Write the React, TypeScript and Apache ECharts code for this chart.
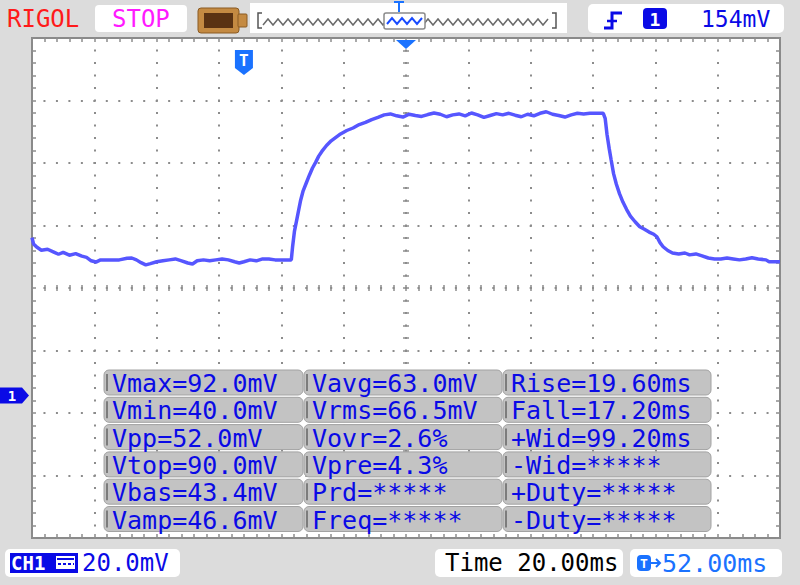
import React, { useEffect, useRef } from "react";
import * as echarts from "echarts";

// ---- waveform (time relative to trigger, ms ; CH1 voltage, mV) ----
const timeMs = [
  -68, -67.5, -66.5, -65, -63, -61, -59.5, -58, -56, -54, -52, -50.5, -49, -47.5, -46, -43, -40, -37.5,
  -36, -34.5, -33, -31.5, -30, -28, -26, -24, -22, -20, -18, -16.5, -15, -13, -11, -9, -7, -5, -3, -1.5,
  0, 2, 4, 6, 8, 10, 12, 14, 15.2,
  15.6, 16.2, 16.8, 17.4, 18.2, 19, 20, 21, 22, 23, 24, 25, 26.5, 28, 29.5, 31, 33, 35, 37, 39, 41, 43, 45, 47,
  49, 51, 53, 55, 57, 59, 61, 63, 65, 67, 69, 71, 73, 75, 77, 79, 81, 83, 85, 87, 89, 91, 93, 95, 97, 99,
  101, 103, 105, 107, 109, 111, 113, 115.3,
  115.9, 116.5, 117.2, 117.8, 118.6, 119.5, 120.5, 121.6, 122.8, 124, 125.5, 127, 128.5, 130, 131.5, 132.5,
  133.5, 134.5, 136, 137.5, 139.5, 141.5, 143, 145, 147, 149, 151, 153, 155, 157, 159, 161, 163, 165,
  167.5, 168.5, 170, 172,
];
const voltageMv = [
  50.5, 48.5, 47.5, 46.5, 46.8, 45.9, 45.2, 45.8, 44.9, 45.4, 44.6, 44.2, 43.1, 42.7, 43.4, 43.4, 43.4, 43.9,
  44.0, 43.4, 42.5, 41.8, 42.2, 42.8, 43.1, 43.4, 43.7, 43.1, 42.4, 42.1, 43.1, 43.4, 43.1, 43.4, 43.7, 43.4, 42.8, 42.4,
  42.8, 43.4, 43.1, 43.7, 43.7, 43.4, 43.4, 43.4, 43.4,
  47.5, 52.5, 55.5, 58.5, 62.5, 65.5, 68.0, 70.5, 72.8, 74.6, 76.6, 78.1, 80.0, 81.5, 82.6, 83.7, 84.8, 85.6, 86.7, 87.4, 88.3, 89.0, 89.8, 90.1,
  89.5, 89.1, 90.0, 89.6, 89.3, 89.9, 90.4, 90.0, 89.2, 89.8, 90.1, 89.5, 90.4, 89.8, 89.0, 89.6, 90.2, 89.8, 90.3, 89.7, 89.2, 90.0, 89.5, 90.3, 90.8, 90.0,
  89.6, 89.1, 89.8, 90.3, 90.1, 90.3, 90.3, 90.3,
  88.7, 83.5, 79.0, 75.5, 71.0, 67.6, 64.6, 61.9, 59.5, 57.4, 55.6, 54.0, 53.2, 52.3, 51.6, 50.8,
  48.9, 47.6, 46.4, 45.6, 45.3, 45.6, 45.0, 45.3, 44.7, 44.0, 43.7, 43.7, 44.0, 43.7, 43.4, 43.7, 44.1, 43.7,
  43.4, 42.8, 42.8, 42.8,
];

// ---- axis settings (20 ms/div, 20 mV/div, delay 52 ms) ----
const timePerDivMs = 20;
const timeMinMs = -68;
const timeMaxMs = 172;
const voltPerDivMv = 20;
const voltMinMv = -45.6;
const voltMaxMv = 114.4;
const delayMs = 52;

// ---- measurement table ----
const measureCol1 = ["Vmax=92.0mV", "Vmin=40.0mV", "Vpp=52.0mV", "Vtop=90.0mV", "Vbas=43.4mV", "Vamp=46.6mV"];
const measureCol2 = ["Vavg=63.0mV", "Vrms=66.5mV", "Vovr=2.6%", "Vpre=4.3%", "Prd=*****", "Freq=*****"];
const measureCol3 = ["Rise=19.60ms", "Fall=17.20ms", "+Wid=99.20ms", "-Wid=*****", "+Duty=*****", "-Duty=*****"];

// ---- status texts ----
const brandText = "RIGOL";
const runStateText = "STOP";
const triggerLevelText = "154mV";
const channelText = "CH1";
const voltScaleText = "20.0mV";
const timeScaleText = "Time 20.00ms";
const delayText = "52.00ms";

const FONT = '"DejaVu Sans Mono", "Liberation Mono", monospace';
const GRID_L = 32;
const GRID_T = 38;
const GRID_W = 748;
const GRID_H = 500;
const DOT = "#8c8c8c";
const WAVE = "#5656ff";
const BLUE = "#0a0ae6";
const LIGHT_BLUE = "#1a72ff";

function txt(text: string, x: number, y: number, fill: string, size: number, extra: any = {}) {
  return {
    type: "text",
    z: 130,
    style: {
      text,
      x,
      y,
      fill,
      fontSize: size,
      fontFamily: FONT,
      verticalAlign: "middle",
      align: "left",
      ...extra,
    },
  };
}

const tickStyle = { color: DOT, width: 1.5 };

function tickAxis(extra: any) {
  return {
    type: "value",
    axisLine: { show: false, onZero: false },
    axisLabel: { show: false },
    splitLine: { show: false },
    axisTick: { show: true, inside: true, length: 4, lineStyle: tickStyle },
    minorTick: { show: true, splitNumber: 5, length: 4, lineStyle: tickStyle },
    ...extra,
  };
}

export default function App() {
  const ref = useRef<HTMLDivElement>(null);

  useEffect(() => {
    if (!ref.current) return;
    const chart = echarts.init(ref.current, undefined, { renderer: "svg" });

    const xBase = { min: timeMinMs, max: timeMaxMs, interval: timePerDivMs };
    const yBase = { min: voltMinMv, max: voltMaxMv, interval: voltPerDivMv };
    const series = timeMs.map((t, i) => [t, voltageMv[i]]);

    const centerIn = {
      axisTick: { show: true, inside: true, length: 3, lineStyle: tickStyle },
      minorTick: { show: true, splitNumber: 5, length: 3, lineStyle: tickStyle },
    };
    const centerOut = {
      axisTick: { show: true, inside: false, length: 3, lineStyle: tickStyle },
      minorTick: { show: true, splitNumber: 5, length: 3, lineStyle: tickStyle },
    };

    chart.setOption({
      animation: false,
      backgroundColor: "#dcdcdc",
      grid: {
        left: GRID_L,
        top: GRID_T,
        width: GRID_W,
        height: GRID_H,
        show: true,
        backgroundColor: "#ffffff",
        borderColor: "#8a8a8a",
        borderWidth: 2,
      },
      xAxis: [
        tickAxis({
          ...xBase,
          position: "bottom",
          splitLine: {
            show: true,
            lineStyle: { color: DOT, width: 2, type: [2, 10.5], dashOffset: 1 },
          },
        }),
        tickAxis({ ...xBase, position: "top" }),
        tickAxis({ ...xBase, position: "bottom", offset: -GRID_H / 2, ...centerIn }),
        tickAxis({ ...xBase, position: "bottom", offset: -GRID_H / 2, ...centerOut }),
      ],
      yAxis: [
        tickAxis({
          ...yBase,
          position: "left",
          splitLine: {
            show: true,
            lineStyle: { color: DOT, width: 2, type: [2, 10.467], dashOffset: 1 },
          },
        }),
        tickAxis({ ...yBase, position: "right" }),
        tickAxis({ ...yBase, position: "left", offset: -GRID_W / 2, ...centerIn }),
        tickAxis({ ...yBase, position: "left", offset: -GRID_W / 2, ...centerOut }),
      ],
      series: [
        {
          type: "line",
          xAxisIndex: 0,
          yAxisIndex: 0,
          data: series,
          showSymbol: false,
          symbol: "none",
          lineStyle: { color: WAVE, width: 3.5 },
          z: 5,
        },
      ],
    });

    const trigX = chart.convertToPixel({ xAxisIndex: 0 }, 0) as number;
    const centerX = chart.convertToPixel({ xAxisIndex: 0 }, delayMs) as number;
    const groundY = chart.convertToPixel({ yAxisIndex: 0 }, 0) as number;

    const g: any[] = [];

    // ---- top bar ----
    g.push(txt(brandText, 7, 19, "#ff1a1a", 24));
    g.push({ type: "rect", z: 100, shape: { x: 95, y: 5, width: 92, height: 27, r: 4 }, style: { fill: "#ffffff" } });
    g.push(txt(runStateText, 112, 19, "#ff1aff", 24));
    // battery-like icon
    g.push({ type: "rect", z: 100, shape: { x: 198, y: 8, width: 41, height: 25, r: 3 }, style: { fill: "#c48a42", stroke: "#8a5a22", lineWidth: 1 } });
    g.push({ type: "rect", z: 101, shape: { x: 238, y: 14, width: 9, height: 13, r: 1 }, style: { fill: "#c48a42", stroke: "#8a5a22", lineWidth: 1 } });
    g.push({ type: "rect", z: 101, shape: { x: 204, y: 13, width: 29, height: 15 }, style: { fill: "#5a3212" } });
    // memory position bar
    g.push({ type: "rect", z: 100, shape: { x: 250, y: 3, width: 317, height: 30 }, style: { fill: "#ffffff" } });
    const zig: number[][] = [];
    for (let x = 263; x <= 552; x += 5) zig.push([x, (x - 263) % 10 === 0 ? 25 : 19]);
    g.push({ type: "polyline", z: 101, shape: { points: zig }, style: { stroke: "#6a6a6a", lineWidth: 1.5, fill: null } });
    g.push({ type: "polyline", z: 101, shape: { points: [[262, 13], [258, 13], [258, 28], [262, 28]] }, style: { stroke: "#555", lineWidth: 1.5, fill: null } });
    g.push({ type: "polyline", z: 101, shape: { points: [[552, 13], [556, 13], [556, 28], [552, 28]] }, style: { stroke: "#555", lineWidth: 1.5, fill: null } });
    g.push({ type: "rect", z: 102, shape: { x: 384, y: 13, width: 41, height: 16, r: 2 }, style: { fill: "#ffffff", stroke: "#8a8a8a", lineWidth: 1.5 } });
    const bzig: number[][] = [];
    for (let x = 387; x <= 422; x += 5) bzig.push([x, (x - 387) % 10 === 0 ? 24 : 18]);
    g.push({ type: "polyline", z: 103, shape: { points: bzig }, style: { stroke: "#1a4cff", lineWidth: 2, fill: null } });
    g.push({ type: "polyline", z: 103, shape: { points: [[394, 2], [404, 2]] }, style: { stroke: LIGHT_BLUE, lineWidth: 2 } });
    g.push({ type: "polyline", z: 103, shape: { points: [[399, 2], [399, 12]] }, style: { stroke: LIGHT_BLUE, lineWidth: 2 } });
    // trigger box
    g.push({ type: "rect", z: 100, shape: { x: 588, y: 4, width: 196, height: 29, r: 5 }, style: { fill: "#ffffff" } });
    g.push({ type: "polyline", z: 101, shape: { points: [[604, 28], [612, 28], [612, 13], [622, 13]] }, style: { stroke: BLUE, lineWidth: 3, fill: null } });
    g.push({ type: "polyline", z: 101, shape: { points: [[607, 21], [617, 21]] }, style: { stroke: BLUE, lineWidth: 2.5 } });
    g.push({ type: "rect", z: 101, shape: { x: 643, y: 8, width: 24, height: 21, r: 4 }, style: { fill: BLUE } });
    g.push(txt("1", 655, 19, "#ffffff", 18, { align: "center", fontWeight: "bold" }));
    g.push(txt(triggerLevelText, 701, 19, BLUE, 23));

    // ---- bottom bar ----
    g.push({ type: "rect", z: 100, shape: { x: 5, y: 549, width: 175, height: 28, r: 5 }, style: { fill: "#ffffff" } });
    g.push({ type: "rect", z: 101, shape: { x: 10, y: 553, width: 68, height: 20 }, style: { fill: BLUE } });
    g.push(txt(channelText, 11, 563, "#ffffff", 19, { fontWeight: "bold" }));
    g.push({ type: "rect", z: 102, shape: { x: 56, y: 556, width: 19, height: 13 }, style: { fill: "#ffffff" } });
    g.push({ type: "polyline", z: 103, shape: { points: [[57, 559], [74, 559]] }, style: { stroke: BLUE, lineWidth: 2 } });
    g.push({ type: "polyline", z: 103, shape: { points: [[58, 564], [74, 564]] }, style: { stroke: BLUE, lineWidth: 2, lineDash: [3, 2] } });
    g.push(txt(voltScaleText, 82, 563, BLUE, 24));
    g.push({ type: "rect", z: 100, shape: { x: 435, y: 549, width: 188, height: 28, r: 5 }, style: { fill: "#ffffff" } });
    g.push(txt(timeScaleText, 445, 563, "#000000", 24));
    g.push({ type: "rect", z: 100, shape: { x: 630, y: 549, width: 152, height: 28, r: 5 }, style: { fill: "#ffffff" } });
    g.push({ type: "rect", z: 101, shape: { x: 637, y: 555, width: 14, height: 16, r: 4 }, style: { fill: LIGHT_BLUE } });
    g.push(txt("T", 644, 563, "#ffffff", 13, { align: "center", fontWeight: "bold" }));
    g.push({ type: "polyline", z: 101, shape: { points: [[651, 563], [660, 563]] }, style: { stroke: LIGHT_BLUE, lineWidth: 2 } });
    g.push({ type: "polyline", z: 101, shape: { points: [[656, 559], [660, 563], [656, 567]] }, style: { stroke: LIGHT_BLUE, lineWidth: 2, fill: null } });
    g.push(txt(delayText, 662, 563, LIGHT_BLUE, 25));

    // ---- markers tied to the scales ----
    g.push({
      type: "polygon", z: 110,
      shape: { points: [[0, groundY - 8], [22, groundY - 8], [29, groundY], [22, groundY + 8], [0, groundY + 8]] },
      style: { fill: BLUE },
    });
    g.push(txt("1", 12, groundY, "#ffffff", 14, { align: "center", fontWeight: "bold" }));
    g.push({
      type: "polygon", z: 110,
      shape: { points: [[trigX - 9, 50], [trigX + 9, 50], [trigX + 9, 68], [trigX, 75], [trigX - 9, 68]] },
      style: { fill: LIGHT_BLUE },
    });
    g.push(txt("T", trigX, 60, "#ffffff", 16, { align: "center", fontWeight: "bold" }));
    g.push({
      type: "polygon", z: 110,
      shape: { points: [[centerX - 10, 40], [centerX + 10, 40], [centerX, 49]] },
      style: { fill: LIGHT_BLUE },
    });

    // ---- measurement table ----
    const cols = [measureCol1, measureCol2, measureCol3];
    const colX = [104, 304, 503, 712];
    const rowTop = 370;
    const rowPitch = 27.3;
    const cellH = 25;
    cols.forEach((col, c) => {
      col.forEach((label, r) => {
        const x = colX[c];
        const w = colX[c + 1] - colX[c] - 1;
        const y = rowTop + r * rowPitch;
        g.push({ type: "rect", z: 120, shape: { x, y, width: w, height: cellH, r: 5 }, style: { fill: "#c3c3c3", stroke: "#a2a2a2", lineWidth: 1 } });
        g.push({ type: "polyline", z: 121, shape: { points: [[x + 3, y + 4], [x + 3, y + cellH - 4]] }, style: { stroke: "#7c7c7c", lineWidth: 2 } });
        g.push({ ...txt(label, x + 8, y + cellH / 2 + 1, BLUE, 25), z: 122 });
      });
    });

    chart.setOption({ graphic: { elements: g } });

    return () => chart.dispose();
  }, []);

  return (
    <div
      ref={ref}
      style={{ position: "fixed", left: 0, top: 0, width: 800, height: 585 }}
    />
  );
}
